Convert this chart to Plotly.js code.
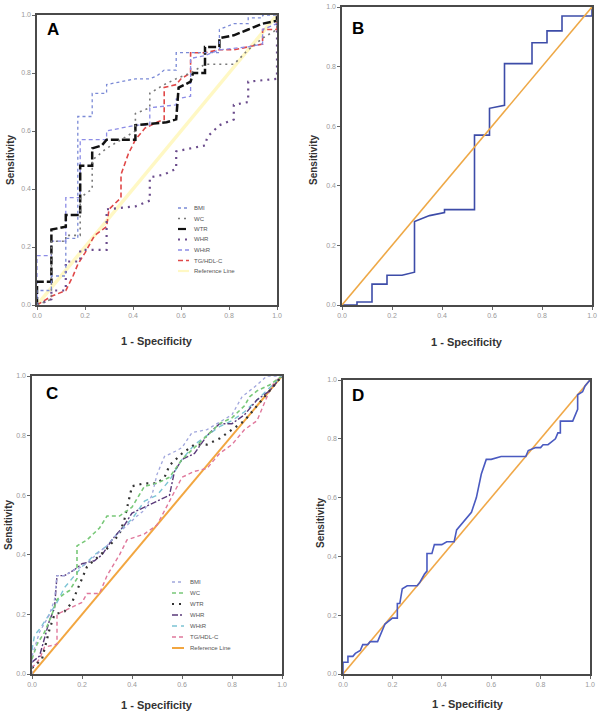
<!DOCTYPE html>
<html><head><meta charset="utf-8">
<script src="https://cdn.plot.ly/plotly-3.0.1.min.js"></script>
<style>html,body{margin:0;padding:0;background:#fff}#chart{width:600px;height:716px}</style>
</head><body><div id="chart"></div>
<script>
// ---------- DATA ----------
const seriesNames = ["BMI","WC","WTR","WHR","WHtR","TG/HDL-C","Reference Line"];
const panelLetters = ["A","B","C","D"];
const tickVals = [0,0.2,0.4,0.6,0.8,1.0];
const tickText = ["0.0","0.2","0.4","0.6","0.8","1.0"];
const refX = [0,1];
const refY = [0,1];

// Panel A
const A_BMI_x = [0,0,0.06,0.06,0.12,0.12,0.17,0.17,0.23,0.23,0.29,0.29,0.35,0.41,0.47,0.50,0.53,0.58,0.58,0.76,0.76,0.82,0.88,0.88,0.94,0.94,1];
const A_BMI_y = [0,0.05,0.05,0.10,0.10,0.23,0.23,0.65,0.65,0.73,0.73,0.76,0.77,0.78,0.78,0.79,0.81,0.81,0.87,0.87,0.95,0.97,0.97,0.99,0.99,1,1];
const A_WC_x = [0,0.06,0.06,0.12,0.12,0.18,0.18,0.23,0.23,0.29,0.35,0.41,0.41,0.47,0.47,0.53,0.58,0.64,0.70,0.82,0.88,0.94,1,1];
const A_WC_y = [0,0.02,0.22,0.22,0.24,0.24,0.37,0.40,0.50,0.54,0.57,0.60,0.66,0.68,0.73,0.76,0.78,0.80,0.83,0.83,0.88,0.92,0.95,1];
const A_WTR_x = [0,0,0.06,0.06,0.12,0.12,0.18,0.18,0.23,0.23,0.27,0.29,0.41,0.41,0.54,0.58,0.59,0.64,0.65,0.70,0.70,0.76,0.76,0.82,0.88,0.94,1,1];
const A_WTR_y = [0,0.08,0.08,0.26,0.27,0.31,0.31,0.48,0.48,0.54,0.55,0.57,0.57,0.62,0.63,0.64,0.75,0.77,0.80,0.80,0.89,0.89,0.92,0.93,0.95,0.97,0.98,1];
const A_WHR_x = [0,0.06,0.06,0.12,0.12,0.18,0.18,0.29,0.29,0.41,0.47,0.47,0.53,0.58,0.58,0.64,0.70,0.71,0.76,0.82,0.82,0.88,0.88,1,1];
const A_WHR_y = [0,0.02,0.05,0.05,0.15,0.15,0.19,0.19,0.33,0.34,0.36,0.44,0.45,0.47,0.53,0.54,0.55,0.58,0.62,0.64,0.69,0.70,0.77,0.78,1];
const A_WHtR_x = [0,0,0.06,0.06,0.12,0.12,0.18,0.18,0.29,0.29,0.41,0.47,0.47,0.58,0.58,0.64,0.64,0.70,0.76,0.88,0.94,0.94,1,1];
const A_WHtR_y = [0,0.17,0.17,0.22,0.22,0.37,0.37,0.57,0.57,0.60,0.62,0.62,0.68,0.69,0.71,0.72,0.85,0.86,0.88,0.89,0.90,0.95,0.97,1];
const A_TG_x = [0,0.02,0.06,0.12,0.15,0.17,0.20,0.24,0.29,0.30,0.35,0.35,0.38,0.41,0.45,0.50,0.53,0.53,0.58,0.60,0.64,0.64,0.70,0.76,0.82,0.88,0.94,0.94,1,1];
const A_TG_y = [0,0.01,0.03,0.05,0.10,0.14,0.18,0.24,0.27,0.33,0.37,0.45,0.52,0.57,0.61,0.63,0.64,0.75,0.76,0.78,0.80,0.87,0.87,0.88,0.88,0.89,0.90,0.95,0.95,1];

// Panel B
const B_x = [0,0.06,0.06,0.12,0.12,0.18,0.18,0.24,0.29,0.29,0.35,0.41,0.41,0.53,0.53,0.59,0.59,0.65,0.65,0.76,0.76,0.82,0.82,0.88,0.88,1,1];
const B_y = [0,0,0.01,0.01,0.07,0.07,0.10,0.10,0.11,0.28,0.30,0.31,0.32,0.32,0.57,0.57,0.66,0.67,0.81,0.81,0.88,0.88,0.92,0.92,0.97,0.97,1];

// Panel C
const C_BMI_x = [0,0,0.03,0.05,0.07,0.09,0.10,0.13,0.17,0.20,0.23,0.27,0.30,0.33,0.38,0.42,0.45,0.48,0.50,0.53,0.58,0.60,0.64,0.70,0.74,0.80,0.84,0.90,0.94,1];
const C_BMI_y = [0,0.06,0.14,0.17,0.20,0.25,0.33,0.33,0.35,0.36,0.38,0.41,0.43,0.46,0.50,0.53,0.55,0.60,0.67,0.73,0.75,0.76,0.81,0.82,0.84,0.87,0.93,0.97,1,1];
const C_WC_x = [0,0.02,0.05,0.08,0.10,0.13,0.15,0.18,0.18,0.22,0.27,0.30,0.35,0.40,0.45,0.50,0.55,0.60,0.65,0.70,0.75,0.80,0.85,0.87,0.90,0.95,1];
const C_WC_y = [0.05,0.10,0.14,0.20,0.25,0.27,0.28,0.32,0.43,0.45,0.49,0.53,0.53,0.56,0.63,0.64,0.66,0.72,0.76,0.80,0.84,0.86,0.90,0.93,0.95,0.97,1];
const C_WTR_x = [0,0.04,0.07,0.09,0.13,0.16,0.20,0.22,0.30,0.35,0.37,0.40,0.45,0.50,0.53,0.55,0.60,0.65,0.70,0.75,0.80,0.85,0.90,0.95,1];
const C_WTR_y = [0.02,0.05,0.15,0.20,0.21,0.24,0.32,0.36,0.42,0.47,0.52,0.63,0.64,0.64,0.66,0.70,0.74,0.77,0.77,0.79,0.82,0.85,0.90,0.95,1];
const C_WHR_x = [0,0.03,0.05,0.07,0.09,0.10,0.13,0.17,0.20,0.25,0.28,0.32,0.37,0.40,0.45,0.50,0.55,0.57,0.60,0.65,0.70,0.75,0.80,0.85,0.90,0.95,1];
const C_WHR_y = [0.04,0.06,0.12,0.18,0.22,0.33,0.33,0.35,0.37,0.38,0.40,0.45,0.50,0.54,0.56,0.58,0.60,0.68,0.72,0.74,0.80,0.84,0.84,0.87,0.92,0.95,1];
const C_WHtR_x = [0,0.01,0.03,0.07,0.10,0.13,0.17,0.20,0.25,0.30,0.35,0.40,0.45,0.50,0.55,0.60,0.65,0.70,0.75,0.80,0.85,0.90,0.95,1];
const C_WHtR_y = [0.08,0.13,0.15,0.20,0.24,0.29,0.33,0.36,0.40,0.43,0.48,0.52,0.58,0.60,0.65,0.72,0.77,0.80,0.83,0.85,0.88,0.92,0.96,1];
const C_TG_x = [0,0.03,0.05,0.10,0.10,0.15,0.20,0.22,0.27,0.30,0.35,0.38,0.45,0.50,0.55,0.60,0.65,0.70,0.75,0.80,0.85,0.90,0.95,0.97,1];
const C_TG_y = [0.02,0.05,0.09,0.10,0.20,0.22,0.24,0.27,0.27,0.33,0.40,0.45,0.47,0.50,0.58,0.66,0.68,0.69,0.74,0.77,0.82,0.85,0.95,0.98,1];

// Panel D
const D_x = [0,0,0.02,0.02,0.04,0.05,0.07,0.08,0.10,0.11,0.14,0.16,0.17,0.20,0.22,0.22,0.23,0.24,0.26,0.30,0.31,0.33,0.34,0.34,0.36,0.37,0.40,0.42,0.45,0.46,0.47,0.49,0.52,0.54,0.56,0.58,0.60,0.64,0.70,0.74,0.75,0.78,0.80,0.81,0.83,0.86,0.87,0.88,0.88,0.93,0.95,0.95,0.97,0.98,1];
const D_y = [0,0.04,0.04,0.06,0.06,0.07,0.08,0.10,0.10,0.11,0.11,0.15,0.17,0.19,0.19,0.24,0.24,0.29,0.30,0.30,0.31,0.34,0.35,0.41,0.41,0.44,0.44,0.45,0.45,0.49,0.50,0.52,0.55,0.60,0.68,0.73,0.73,0.74,0.74,0.74,0.76,0.77,0.77,0.78,0.78,0.80,0.82,0.82,0.86,0.86,0.90,0.95,0.96,0.98,1];

// ---------- STYLES ----------
const stylesA = [
  {color:"#7b8ad6", dash:"dot", width:1.3},
  {color:"#7a7a7a", dash:"2px,4px", width:1.6},
  {color:"#111111", dash:"8px,3px", width:2.5},
  {color:"#6b4c8c", dash:"2px,5px", width:2.2},
  {color:"#8c8ce6", dash:"4px,3px", width:1.3},
  {color:"#e04848", dash:"5px,3px", width:1.6},
  {color:"#fff8c4", dash:"solid", width:3.5}
];
const stylesC = [
  {color:"#a0a6dc", dash:"dot", width:1.3},
  {color:"#78c878", dash:"4px,3px", width:1.6},
  {color:"#333333", dash:"2px,5px", width:2.2},
  {color:"#5a3a7a", dash:"6px,2px,2px,2px", width:1.4},
  {color:"#7cc4d4", dash:"5px,4px", width:1.4},
  {color:"#e0789c", dash:"4px,3px", width:1.4},
  {color:"#f2a640", dash:"solid", width:2}
];

const dataA = [[A_BMI_x,A_BMI_y],[A_WC_x,A_WC_y],[A_WTR_x,A_WTR_y],[A_WHR_x,A_WHR_y],[A_WHtR_x,A_WHtR_y],[A_TG_x,A_TG_y]];
const dataC = [[C_BMI_x,C_BMI_y],[C_WC_x,C_WC_y],[C_WTR_x,C_WTR_y],[C_WHR_x,C_WHR_y],[C_WHtR_x,C_WHtR_y],[C_TG_x,C_TG_y]];

const traces = [];
function line(x,y,st,xa,ya,name){
  traces.push({type:"scatter",mode:"lines",x:x,y:y,xaxis:xa,yaxis:ya,name:name,showlegend:false,
    line:{color:st.color,dash:st.dash,width:st.width},hoverinfo:"skip"});
}
// A
line(refX,refY,stylesA[6],"x","y",seriesNames[6]);
for(let i=5;i>=0;i--) line(dataA[i][0],dataA[i][1],stylesA[i],"x","y",seriesNames[i]);
// B
line(B_x,B_y,{color:"#3d4ca8",dash:"solid",width:1.6},"x2","y2","ROC");
line(refX,refY,{color:"#eea846",dash:"solid",width:1.6},"x2","y2","Reference Line");
// C
line(refX,refY,stylesC[6],"x3","y3",seriesNames[6]);
for(let i=5;i>=0;i--) line(dataC[i][0],dataC[i][1],stylesC[i],"x3","y3",seriesNames[i]);
// D
line(refX,refY,{color:"#f0a848",dash:"solid",width:1.6},"x4","y4","Reference Line");
line(D_x,D_y,{color:"#4a5ac0",dash:"solid",width:1.6},"x4","y4","ROC");

const W=600,H=716;
const px = v=>v/W, py = v=>1-v/H;

function ax(domain, anchor){
  return {domain:domain, anchor:anchor, range:[0,1], tickvals:tickVals, ticktext:tickText,
    ticks:"outside", ticklen:3, tickcolor:"#666", tickwidth:1,
    tickfont:{family:"Liberation Sans, Arial, sans-serif", size:7, color:"#999"},
    showgrid:false, zeroline:false, showline:true, mirror:true, linecolor:"#4a4a4a", linewidth:1.6,
    fixedrange:true};
}

const panels = [
  {x0:37,x1:277,y0:15,y1:305},
  {x0:342,x1:592,y0:7,y1:305},
  {x0:32,x1:282,y0:376,y1:674},
  {x0:343,x1:590,y0:380,y1:674}
];
const layout = {width:W,height:H,margin:{l:0,r:0,t:0,b:0},paper_bgcolor:"#fff",plot_bgcolor:"#fff",
  showlegend:false, annotations:[], shapes:[]};
const axNames=[["xaxis","yaxis","x","y"],["xaxis2","yaxis2","x2","y2"],["xaxis3","yaxis3","x3","y3"],["xaxis4","yaxis4","x4","y4"]];
panels.forEach((p,i)=>{
  const n=axNames[i];
  layout[n[0]] = ax([px(p.x0),px(p.x1)], n[3]);
  layout[n[1]] = ax([py(p.y1),py(p.y0)], n[2]);
});

// axis titles and panel letters
const xTitlePos = [[157,341],[467,342],[157,705],[468,704]];
const yTitlePos = [[10,160],[313,160],[8,525],[320,523]];
const letterPos = [[53,29],[358,28],[52,393],[358,395]];
for(let i=0;i<4;i++){
  layout.annotations.push({xref:"paper",yref:"paper",x:px(xTitlePos[i][0]),y:py(xTitlePos[i][1]),
    text:"1 - Specificity",showarrow:false,xanchor:"center",yanchor:"middle",
    font:{family:"Liberation Sans, Arial, sans-serif",size:11,color:"#333",weight:"bold"}});
  layout.annotations.push({xref:"paper",yref:"paper",x:px(yTitlePos[i][0]),y:py(yTitlePos[i][1]),
    text:"Sensitivity",textangle:-90,showarrow:false,xanchor:"center",yanchor:"middle",
    font:{family:"Liberation Sans, Arial, sans-serif",size:10,color:"#333",weight:"bold"}});
  layout.annotations.push({xref:"paper",yref:"paper",x:px(letterPos[i][0]),y:py(letterPos[i][1]),
    text:"<b>"+panelLetters[i]+"</b>",showarrow:false,xanchor:"center",yanchor:"middle",
    font:{family:"Liberation Sans, Arial, sans-serif",size:17,color:"#000"}});
}

// manual legends (A and C)
function legend(styles, sx0, sx1, tx, y0, dy){
  seriesNames.forEach((nm,i)=>{
    const y = y0 + i*dy;
    layout.shapes.push({type:"line",xref:"paper",yref:"paper",x0:px(sx0),x1:px(sx1),y0:py(y),y1:py(y),
      line:{color:styles[i].color,dash:styles[i].dash,width:Math.min(styles[i].width,2.2)}});
    layout.annotations.push({xref:"paper",yref:"paper",x:px(tx),y:py(y),text:nm,showarrow:false,
      xanchor:"left",yanchor:"middle",font:{family:"Liberation Sans, Arial, sans-serif",size:6,color:"#555"}});
  });
}
legend(stylesA,178,189,192,208,10.5);
legend(stylesC,172,184,188,582,11);

Plotly.newPlot("chart",traces,layout,{displayModeBar:false,staticPlot:true});
</script></body></html>
